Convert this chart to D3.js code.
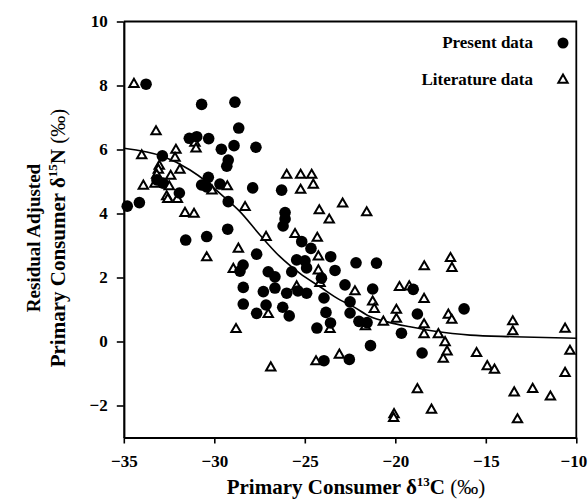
<!DOCTYPE html>
<html lang="en">
<head>
<meta charset="UTF-8">
<title>Residual adjusted primary consumer d15N vs d13C</title>
<script src="https://d3js.org/d3.v7.min.js"></script>
<style>
    body { margin: 0; background: #fff; }
    svg { display: block; }
    text { font-family: "Liberation Serif", "Times New Roman", serif; }
</style>
</head>
<body>
<script>
    // Present data (filled circles)
    const presentX = [-33.77, -30.70, -28.86, -28.65, -30.31, -31.38, -30.97, -28.91, -29.61, -27.70,
        -29.23, -29.31, -32.87, -30.33, -30.70, -30.42, -29.69, -33.17, -32.83, -31.93,
        -27.88, -34.81, -34.14, -31.58, -30.42, -29.26, -29.23, -27.66, -28.41, -28.58,
        -28.40, -28.40, -27.66, -26.28, -26.09, -26.09, -26.20, -25.17, -24.66, -25.45,
        -24.99, -24.90, -25.72, -23.57, -22.17, -21.04, -23.33, -27.02, -26.65, -24.08,
        -27.29, -26.65, -26.00, -25.38, -24.90, -22.78, -23.94, -22.50, -27.14, -26.22,
        -25.86, -23.83, -22.50, -23.58, -24.33, -22.01, -21.56, -21.25, -19.01, -16.20,
        -18.78, -19.66, -21.37, -18.52, -22.54, -23.94];
    const presentY = [8.04, 7.41, 7.48, 6.67, 6.34, 6.35, 6.40, 6.12, 6.01, 6.07,
        5.67, 5.48, 5.80, 5.13, 4.89, 4.83, 4.92, 5.05, 4.95, 4.64,
        4.80, 4.23, 4.34, 3.17, 3.28, 3.51, 4.37, 2.73, 2.39, 2.20,
        1.69, 1.17, 0.88, 4.73, 4.03, 3.83, 3.61, 3.12, 2.91, 2.55,
        2.52, 2.30, 2.18, 2.65, 2.46, 2.45, 2.22, 2.18, 2.02, 1.98,
        1.56, 1.67, 1.51, 1.58, 1.51, 1.77, 1.36, 1.24, 1.14, 1.07,
        0.80, 0.91, 0.89, 0.58, 0.42, 0.63, 0.59, 1.64, 1.63, 1.02,
        0.86, 0.26, -0.13, -0.36, -0.56, -0.60];

    // Literature data (open triangles)
    const litX = [-34.44, -33.22, -34.01, -32.12, -32.17, -31.07, -31.01, -33.04, -33.09, -33.18,
        -32.41, -31.90, -33.92, -33.28, -32.49, -32.63, -29.28, -30.13, -32.57, -32.04,
        -31.62, -31.12, -30.42, -28.30, -28.67, -28.95, -26.00, -25.23, -24.62, -24.53,
        -25.23, -24.20, -22.91, -21.58, -23.65, -27.14, -25.54, -24.31, -24.25, -24.25,
        -25.45, -24.16, -22.23, -21.25, -21.16, -27.02, -23.61, -21.65, -23.09, -24.38,
        -26.88, -28.80, -18.40, -16.95, -16.87, -19.77, -19.23, -18.41, -19.94, -19.94,
        -17.07, -16.88, -20.66, -18.41, -18.41, -17.62, -17.25, -17.14, -17.35, -13.51,
        -13.51, -10.62, -10.35, -10.62, -15.51, -14.92, -14.52, -18.78, -13.43, -12.41,
        -11.43, -20.07, -20.09, -18.00, -13.25];
    const litY = [8.04, 6.56, 5.81, 5.98, 5.73, 6.20, 6.02, 5.48, 5.36, 5.20,
        5.17, 5.36, 4.86, 4.92, 4.84, 4.53, 4.84, 4.71, 4.44, 4.44,
        4.01, 3.98, 2.62, 4.19, 2.89, 2.26, 5.20, 5.20, 5.20, 4.89,
        4.73, 4.09, 4.30, 4.03, 3.80, 3.26, 3.35, 3.23, 2.65, 2.21,
        1.71, 1.82, 1.56, 1.24, 1.01, 0.85, 0.38, 0.47, -0.42, -0.63,
        -0.82, 0.38, 2.34, 2.60, 2.29, 1.69, 1.71, 1.32, 0.98, 0.70,
        0.83, 0.67, 0.61, 0.53, 0.22, 0.22, -0.03, -0.32, -0.55, 0.62,
        0.31, 0.39, -0.30, -0.99, -0.37, -0.78, -0.89, -1.50, -1.60, -1.49,
        -1.73, -2.28, -2.40, -2.14, -2.44];

    // Fitted curve
    const fitX = [-35, -32.82, -31.34, -30.42, -29.69, -28.58, -27.48, -26.37, -25.27, -24.16,
        -23.06, -22.32, -21.40, -20.29, -19.19, -17.71, -15.87, -13.48, -10.02];
    const fitY = [6.04, 5.78, 5.36, 4.99, 4.63, 4.06, 3.33, 2.65, 2.13, 1.71,
        1.30, 1.09, 0.78, 0.59, 0.46, 0.31, 0.20, 0.15, 0.10];

    const xTicks = [-35, -30, -25, -20, -15, -10];
    const yTicks = [-2, 0, 2, 4, 6, 8, 10];

    const width = 588, height = 499;
    const serif = "'Liberation Serif', 'Times New Roman', serif";

    const svg = d3.select("body")
        .append("svg")
        .attr("width", width)
        .attr("height", height)
        .attr("font-family", serif);

    const x = d3.scaleLinear().domain([-35, -10]).range([123.8, 576.3]);
    const y = d3.scaleLinear().domain([-3, 10]).range([437.5, 21.5]);

    // frame (top and right)
    svg.append("path")
        .attr("d", `M${x(-35)},${y(10)}H${x(-10)}V${y(-3)}`)
        .attr("fill", "none")
        .attr("stroke", "#000")
        .attr("stroke-width", 1.8);

    // axes
    const xAxis = svg.append("g")
        .attr("transform", `translate(0,${y(-3)})`)
        .call(d3.axisBottom(x).tickValues(xTicks).tickSize(6).tickSizeOuter(0).tickPadding(11));

    const yAxis = svg.append("g")
        .attr("transform", `translate(${x(-35)},0)`)
        .call(d3.axisLeft(y).tickValues(yTicks).tickSize(7).tickSizeOuter(0).tickPadding(9));

    [xAxis, yAxis].forEach(g => {
        g.attr("font-family", serif).attr("font-size", 17).attr("font-weight", "bold");
        g.select(".domain").attr("stroke-width", 2.2);
        g.selectAll(".tick line").attr("stroke-width", 1.6);
        g.selectAll(".tick text").attr("fill", "#000");
    });
    // keep the last x label inside the page
    xAxis.selectAll(".tick text").filter(d => d === -10).attr("dx", -3);

    // fitted line
    const line = d3.line()
        .x(d => x(d[0]))
        .y(d => y(d[1]))
        .curve(d3.curveMonotoneX);

    svg.append("path")
        .datum(fitX.map((v, i) => [v, fitY[i]]))
        .attr("d", line)
        .attr("fill", "none")
        .attr("stroke", "#000")
        .attr("stroke-width", 1.6);

    // literature points
    const tri = d3.symbol().type(d3.symbolTriangle).size(38);

    svg.append("g")
        .selectAll("path")
        .data(litX.map((v, i) => [v, litY[i]]))
        .enter()
        .append("path")
        .attr("d", tri)
        .attr("transform", d => `translate(${x(d[0])},${y(d[1])})`)
        .attr("fill", "#fff")
        .attr("stroke", "#000")
        .attr("stroke-width", 2);

    // present points
    svg.append("g")
        .selectAll("circle")
        .data(presentX.map((v, i) => [v, presentY[i]]))
        .enter()
        .append("circle")
        .attr("cx", d => x(d[0]))
        .attr("cy", d => y(d[1]))
        .attr("r", 5.8)
        .attr("fill", "#000");

    // legend
    const legend = svg.append("g")
        .attr("font-weight", "bold")
        .attr("font-size", 17);

    legend.append("text")
        .attr("x", 533).attr("y", 48)
        .attr("text-anchor", "end")
        .text("Present data");
    legend.append("circle")
        .attr("cx", 563).attr("cy", 43)
        .attr("r", 5.5)
        .attr("fill", "#000");

    legend.append("text")
        .attr("x", 533).attr("y", 85)
        .attr("text-anchor", "end")
        .text("Literature data");
    legend.append("path")
        .attr("d", tri)
        .attr("transform", "translate(563,80)")
        .attr("fill", "#fff")
        .attr("stroke", "#000")
        .attr("stroke-width", 2);

    // x axis title
    const xt = svg.append("text")
        .attr("x", 356).attr("y", 494)
        .attr("text-anchor", "middle")
        .attr("font-weight", "bold")
        .attr("font-size", 21);
    xt.append("tspan").text("Primary Consumer δ");
    xt.append("tspan").attr("dy", -8).attr("font-size", 13).text("13");
    xt.append("tspan").attr("dy", 8).text("C ");
    xt.append("tspan").attr("font-weight", "normal").text("(‰)");

    // y axis title, two lines
    const yt = svg.append("g")
        .attr("transform", "translate(0,238) rotate(-90)")
        .attr("font-weight", "bold")
        .attr("font-size", 21)
        .attr("text-anchor", "middle");

    yt.append("text")
        .attr("x", 0).attr("y", 40)
        .attr("font-size", 19)
        .text("Residual Adjusted");

    const yl = yt.append("text")
        .attr("x", 0).attr("y", 65);
    yl.append("tspan").text("Primary Consumer δ");
    yl.append("tspan").attr("dy", -8).attr("font-size", 13).text("15");
    yl.append("tspan").attr("dy", 8).text("N ");
    yl.append("tspan").attr("font-weight", "normal").text("(‰)");
</script>
</body>
</html>
